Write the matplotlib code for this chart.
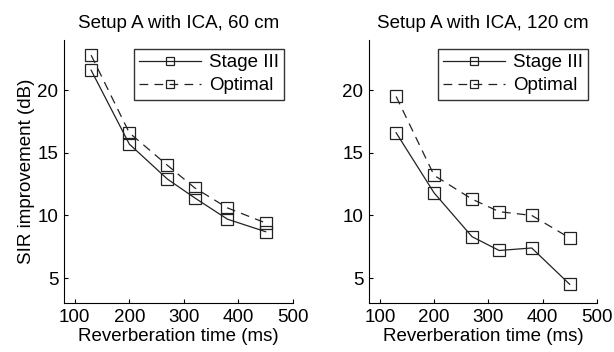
import matplotlib
matplotlib.use('Agg')
import matplotlib.pyplot as plt

plt.rcParams['font.family'] = ['Liberation Sans', 'DejaVu Sans']

reverb_ms = [130, 200, 270, 320, 380, 450]

# 60 cm
stage3_60 = [21.6, 15.7, 12.9, 11.4, 9.7, 8.7]
optimal_60 = [22.8, 16.6, 14.0, 12.2, 10.6, 9.4]

# 120 cm
stage3_120 = [16.6, 11.8, 8.3, 7.2, 7.4, 4.5]
optimal_120 = [19.5, 13.2, 11.3, 10.3, 10.0, 8.2]

titles = ['Setup A with ICA, 60 cm', 'Setup A with ICA, 120 cm']
series = [(stage3_60, optimal_60), (stage3_120, optimal_120)]
positions = [[0.104, 0.139, 0.373, 0.747], [0.601, 0.139, 0.371, 0.747]]

fs = 13.5
fig = plt.figure(figsize=(6.14, 3.52), dpi=100)

for i, (pos, title, (s3, opt)) in enumerate(zip(positions, titles, series)):
    ax = fig.add_axes(pos)
    ax.plot(reverb_ms, s3, '-', color='#222222', lw=0.9, marker='s',
            markersize=8, fillstyle='none', markeredgewidth=0.9, label='Stage III')
    ax.plot(reverb_ms, opt, '--', color='#222222', lw=0.9, marker='s',
            markersize=8, fillstyle='none', markeredgewidth=0.9,
            dashes=(7, 5), label='Optimal')
    ax.set_xlim(80, 500)
    ax.set_ylim(3, 24)
    ax.set_xticks([100, 200, 300, 400, 500])
    ax.set_yticks([5, 10, 15, 20])
    ax.spines['top'].set_visible(False)
    ax.spines['right'].set_visible(False)
    ax.tick_params(direction='in', labelsize=fs, length=3, pad=4)
    ax.set_title(title, fontsize=fs, pad=9)
    ax.set_xlabel('Reverberation time (ms)', fontsize=fs, labelpad=2)
    if i == 0:
        ax.set_ylabel('SIR improvement (dB)', fontsize=fs, labelpad=2)
    leg = ax.legend(loc='upper right', fontsize=fs, frameon=True, fancybox=False,
                    edgecolor='black', handlelength=3.3, borderpad=0.3,
                    labelspacing=0.3, handletextpad=0.4, borderaxespad=0.45,
                    markerscale=0.7)
    leg.get_frame().set_linewidth(1.0)

plt.savefig('out.png')
